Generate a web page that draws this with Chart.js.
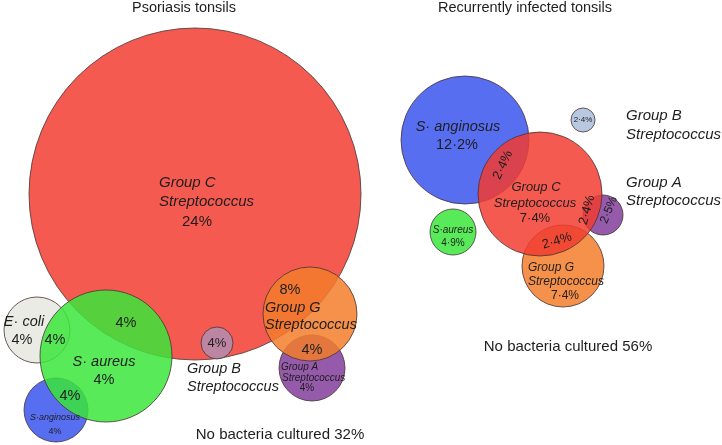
<!DOCTYPE html>
<html><head><meta charset="utf-8">
<script src="https://cdn.jsdelivr.net/npm/chart.js@4/dist/chart.umd.min.js"></script>
<style>html,body{margin:0;padding:0;background:#fff}#wrap{width:722px;height:445px;position:relative}</style>
</head><body>
<div id="wrap"><canvas id="c" width="722" height="445"></canvas></div>
<script>
// Psoriasis tonsils – circles in drawing order
const psorNames = ['Group C Streptococcus','E· coli','S· anginosus','S· aureus','Group B Streptococcus','Group A Streptococcus','Group G Streptococcus'];
const psorPercent = [24, 4, 4, 4, 4, 4, 8];
const psorX = [195, 37, 56, 106, 217, 312, 310];
const psorY = [194, 330, 410, 356, 343, 368, 314];
const psorR = [166, 33, 32, 66, 16, 33, 47];

// Recurrently infected tonsils – circles in drawing order
const recNames = ['S· anginosus','S· aureus','Group B Streptococcus','Group A Streptococcus','Group G Streptococcus','Group C Streptococcus'];
const recPercent = [12.2, 4.9, 2.4, 2.5, 7.4, 7.4];
const recX = [465, 453, 583, 603, 563, 540];
const recY = [140, 232, 120, 215, 266, 194];
const recR = [64, 23, 12, 20, 41, 62];

const noBacteria = [32, 56];

const colorOf = {
  'Group C Streptococcus':'rgba(242,61,49,0.85)',
  'E· coli':'rgba(232,232,224,0.85)',
  'S· anginosus':'rgba(59,85,238,0.85)',
  'S· aureus':'rgba(60,230,60,0.85)',
  'Group B Streptococcus':'rgba(179,143,179,0.85)',
  'Group A Streptococcus':'rgba(131,61,155,0.85)',
  'Group G Streptococcus':'rgba(243,126,43,0.85)'
};
const recGroupBColor = 'rgba(173,190,220,0.85)';

function pts(xs, ys, rs){ return xs.map((x,i)=>({x:x, y:ys[i], r:rs[i]})); }

const fmt = v => String(v).replace('.', '·') + '%';

// text labels (chart units)
const labels = [
  {t:'Psoriasis tonsils', x:184, y:8, s:14.5},
  {t:'Group C', x:159, y:183, s:15, i:1, a:'left'},
  {t:'Streptococcus', x:159, y:202, s:15, i:1, a:'left'},
  {t:fmt(psorPercent[0]), x:197, y:222, s:15},
  {t:'E· coli', x:24, y:322, s:14.5, i:1},
  {t:fmt(psorPercent[1]), x:22, y:340, s:14.5},
  {t:'4%', x:55, y:340, s:14.5},
  {t:'4%', x:126, y:323, s:14.5},
  {t:'S· aureus', x:104, y:362, s:14.5, i:1},
  {t:fmt(psorPercent[3]), x:104, y:380, s:14.5},
  {t:'4%', x:70, y:396, s:14.5},
  {t:'S·anginosus', x:55, y:417, s:9, i:1},
  {t:fmt(psorPercent[2]), x:55, y:432, s:9},
  {t:fmt(psorPercent[6]), x:290, y:290, s:14.5},
  {t:'Group G', x:265, y:308, s:14.5, i:1, a:'left'},
  {t:'Streptococcus', x:265, y:325, s:14.5, i:1, a:'left'},
  {t:fmt(psorPercent[4]), x:217, y:343, s:13},
  {t:'4%', x:312, y:350, s:14.5},
  {t:'Group A', x:281, y:367, s:10, i:1, a:'left'},
  {t:'Streptococcus', x:282, y:378, s:10, i:1, a:'left'},
  {t:fmt(psorPercent[5]), x:307, y:388, s:10},
  {t:'Group B', x:187, y:369, s:14.5, i:1, a:'left'},
  {t:'Streptococcus', x:187, y:387, s:14.5, i:1, a:'left'},
  {t:'No bacteria cultured ' + noBacteria[0] + '%', x:280, y:435, s:15},

  {t:'Recurrently infected tonsils', x:525, y:8, s:14.5},
  {t:'S· anginosus', x:458, y:127, s:14.5, i:1},
  {t:fmt(recPercent[0]), x:457, y:145, s:14.5},
  {t:'2·4%', x:503, y:165, s:13, rot:-65},
  {t:'Group C', x:536, y:187, s:13, i:1},
  {t:'Streptococcus', x:535, y:203, s:13, i:1},
  {t:fmt(recPercent[5]), x:535, y:218, s:13},
  {t:'2·4%', x:587, y:210, s:13, rot:-75},
  {t:fmt(recPercent[3]), x:609, y:210, s:12, rot:-68},
  {t:'2·4%', x:557, y:241, s:13, rot:-17},
  {t:'S·aureus', x:453, y:230, s:10, i:1},
  {t:fmt(recPercent[1]), x:453, y:243, s:10},
  {t:'Group G', x:528, y:268, s:12, i:1, a:'left'},
  {t:'Streptococcus', x:528, y:282, s:12, i:1, a:'left'},
  {t:fmt(recPercent[4]), x:565, y:296, s:12},
  {t:fmt(recPercent[2]), x:583, y:120, s:8},
  {t:'Group B', x:626, y:116, s:15, i:1, a:'left'},
  {t:'Streptococcus', x:626, y:135, s:15, i:1, a:'left'},
  {t:'Group A', x:626, y:183, s:15, i:1, a:'left'},
  {t:'Streptococcus', x:626, y:201, s:15, i:1, a:'left'},
  {t:'No bacteria cultured ' + noBacteria[1] + '%', x:568, y:347, s:15}
];

const textPlugin = {
  id:'textLabels',
  afterDatasetsDraw(chart){
    const ctx = chart.ctx, xs = chart.scales.x, ys = chart.scales.y;
    ctx.save();
    ctx.fillStyle = '#1e1e1e';
    ctx.textBaseline = 'middle';
    labels.forEach(l=>{
      const px = xs.getPixelForValue(l.x), py = ys.getPixelForValue(l.y);
      ctx.font = (l.i ? 'italic ' : '') + l.s + 'px "Liberation Sans", Arial, sans-serif';
      ctx.textAlign = l.a || 'center';
      ctx.save();
      ctx.translate(px, py);
      if (l.rot) ctx.rotate(l.rot*Math.PI/180);
      ctx.fillText(l.t, 0, 0);
      ctx.restore();
    });
    ctx.restore();
  }
};

new Chart(document.getElementById('c'), {
  type:'bubble',
  data:{
    datasets:[
      {label:'Recurrently infected tonsils', data:pts(recX, recY, recR),
       backgroundColor: recNames.map(n => n==='Group B Streptococcus' ? recGroupBColor : colorOf[n]),
       borderColor:'rgba(70,50,50,0.8)', borderWidth:1, clip:false},
      {label:'Psoriasis tonsils', data:pts(psorX, psorY, psorR),
       backgroundColor: psorNames.map(n => colorOf[n]),
       borderColor:'rgba(70,50,50,0.8)', borderWidth:1, clip:false}
    ]
  },
  options:{
    responsive:false, animation:false, devicePixelRatio:1,
    layout:{padding:0, autoPadding:false},
    events:[],
    plugins:{legend:{display:false}, tooltip:{enabled:false}},
    scales:{
      x:{type:'linear', min:0, max:722, display:false},
      y:{type:'linear', min:0, max:445, reverse:true, display:false}
    }
  },
  plugins:[textPlugin]
});
</script>
</body></html>
